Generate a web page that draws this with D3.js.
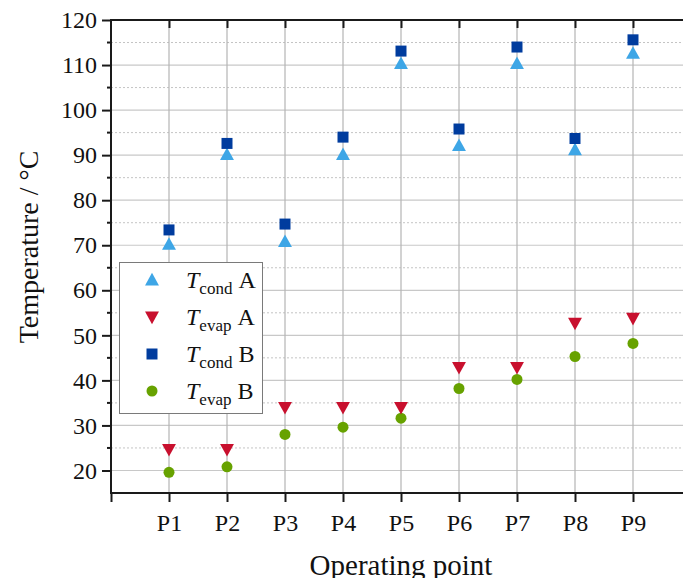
<!DOCTYPE html>
<html lang="en">
<head>
<meta charset="UTF-8" />
<title>Operating point temperatures</title>
<script src="https://d3js.org/d3.v7.min.js"></script>
<style>
  body { margin: 0; background: #fff; }
  text { font-family: "Liberation Serif", "Times New Roman", serif; fill: #111; }
</style>
</head>
<body>
<script>
// values
var points = ["P1", "P2", "P3", "P4", "P5", "P6", "P7", "P8", "P9"];
var tCondA = [70.2, 90.1, 70.8, 90.1, 110.3, 92.1, 110.3, 91.2, 112.6];
var tEvapA = [24.7, 24.7, 34.0, 34.0, 34.0, 42.9, 42.9, 52.7, 53.8];
var tCondB = [73.4, 92.6, 74.7, 94.0, 113.1, 95.8, 114.0, 93.7, 115.6];
var tEvapB = [19.6, 20.8, 28.0, 29.6, 31.6, 38.2, 40.2, 45.3, 48.2];
var yTicks = [20, 30, 40, 50, 60, 70, 80, 90, 100, 110, 120];

var W = 683, H = 578;
var svg = d3.select("body").append("svg").attr("width", W).attr("height", H);

// x runs from one slot before P1 to one after P9, the right end is cut by the window
var x = d3.scaleLinear().domain([0, 10]).range([111, 691]);
var y = d3.scaleLinear().domain([15, 120]).range([493, 20]);

var grid = svg.append("g");
// minor (dashed) horizontal grid
grid.selectAll("line.minor").data(d3.range(15, 120, 10)).enter().append("line")
  .attr("x1", x(0)).attr("x2", x(10))
  .attr("y1", d => y(d)).attr("y2", d => y(d))
  .attr("stroke", "#c4c4c4").attr("stroke-width", 1).attr("stroke-dasharray", "2,2");
// major horizontal grid
grid.selectAll("line.major").data(yTicks).enter().append("line")
  .attr("x1", x(0)).attr("x2", x(10))
  .attr("y1", d => y(d)).attr("y2", d => y(d))
  .attr("stroke", "#c8c8c8").attr("stroke-width", 1.2);
// vertical grid at each operating point
grid.selectAll("line.v").data(points).enter().append("line")
  .attr("x1", (d, i) => x(i + 1)).attr("x2", (d, i) => x(i + 1))
  .attr("y1", y(120)).attr("y2", y(15))
  .attr("stroke", "#b4b4b4").attr("stroke-width", 1.2);

// axes
var axisCol = "#1a1a1a";
var leftAx = svg.append("g").attr("transform", "translate(" + x(0) + ",0)")
  .call(d3.axisLeft(y).tickValues(yTicks).tickSize(9).tickPadding(5));
leftAx.select(".domain").remove();
leftAx.selectAll(".tick line").attr("stroke", axisCol).attr("stroke-width", 2);
leftAx.selectAll(".tick text").attr("font-size", 24).attr("fill", "#111")
  .attr("font-family", "Liberation Serif");

// minor ticks on the left
svg.append("g").selectAll("line").data(d3.range(25, 120, 10)).enter().append("line")
  .attr("x1", x(0) - 4).attr("x2", x(0))
  .attr("y1", d => y(d)).attr("y2", d => y(d))
  .attr("stroke", axisCol).attr("stroke-width", 2);

var bottomAx = svg.append("g").attr("transform", "translate(0," + y(15) + ")")
  .call(d3.axisBottom(x).tickValues(d3.range(0, 11)).tickSize(9).tickPadding(12)
    .tickFormat(d => (d >= 1 && d <= 9) ? points[d - 1] : ""));
bottomAx.select(".domain").remove();
bottomAx.selectAll(".tick line").attr("stroke", axisCol).attr("stroke-width", 2);
bottomAx.selectAll(".tick text").attr("font-size", 24).attr("fill", "#111")
  .attr("font-family", "Liberation Serif");

var topAx = svg.append("g").attr("transform", "translate(0," + y(120) + ")")
  .call(d3.axisBottom(x).tickValues(d3.range(1, 10)).tickSize(8).tickFormat(""));
topAx.select(".domain").remove();
topAx.selectAll(".tick line").attr("stroke", axisCol).attr("stroke-width", 2);

// frame lines
svg.append("line").attr("x1", x(0)).attr("x2", x(0)).attr("y1", y(120) - 1).attr("y2", y(15) + 1)
  .attr("stroke", axisCol).attr("stroke-width", 2);
svg.append("line").attr("x1", x(0) - 1).attr("x2", x(10)).attr("y1", y(120)).attr("y2", y(120))
  .attr("stroke", axisCol).attr("stroke-width", 2);
svg.append("line").attr("x1", x(0) - 1).attr("x2", x(10)).attr("y1", y(15)).attr("y2", y(15))
  .attr("stroke", axisCol).attr("stroke-width", 2);

// markers
var cUp = "#3ea6e6", cDown = "#c8102e", cSq = "#003c9e", cCirc = "#67a200";
function triUp(s) { return "M0," + (-s * 0.6) + "L" + (s * 0.58) + "," + (s * 0.45) + "L" + (-s * 0.58) + "," + (s * 0.45) + "Z"; }
function triDown(s) { return "M0," + (s * 0.6) + "L" + (s * 0.58) + "," + (-s * 0.45) + "L" + (-s * 0.58) + "," + (-s * 0.45) + "Z"; }
function square(s) { var h = s / 2; return "M" + (-h) + "," + (-h) + "h" + s + "v" + s + "h" + (-s) + "Z"; }

var series = [
  { name: "cond", sub: "A", vals: tCondA, col: cUp, shape: "up" },
  { name: "evap", sub: "A", vals: tEvapA, col: cDown, shape: "down" },
  { name: "cond", sub: "B", vals: tCondB, col: cSq, shape: "sq" },
  { name: "evap", sub: "B", vals: tEvapB, col: cCirc, shape: "circ" }
];

function drawMarker(g, s) {
  if (s.shape === "circ") {
    g.append("circle").attr("r", 5.5).attr("fill", s.col);
  } else {
    var d = s.shape === "up" ? triUp(12) : s.shape === "down" ? triDown(12) : square(11);
    g.append("path").attr("d", d).attr("fill", s.col);
  }
}

var marks = svg.append("g");
[series[3], series[1], series[0], series[2]].forEach(function (s) {
  s.vals.forEach(function (v, i) {
    var g = marks.append("g").attr("transform", "translate(" + x(i + 1) + "," + y(v) + ")");
    drawMarker(g, s);
  });
});

// legend
var lg = svg.append("g").attr("transform", "translate(119,262)");
lg.append("rect").attr("x", 0.5).attr("y", 0.5).attr("width", 143).attr("height", 151)
  .attr("fill", "#fff").attr("stroke", "#7a7a7a").attr("stroke-width", 1);
series.forEach(function (s, i) {
  var cy = 18 + i * 37;
  var g = lg.append("g").attr("transform", "translate(33," + cy + ")");
  drawMarker(g, s);
  var t = lg.append("text").attr("x", 67).attr("y", cy + 8).attr("font-size", 24);
  t.append("tspan").attr("font-style", "italic").text("T");
  t.append("tspan").attr("font-size", 17).attr("dy", 6).text(s.name);
  t.append("tspan").attr("dy", -6).text("\u00a0" + s.sub);
});

// axis titles
svg.append("text").attr("transform", "translate(38,247) rotate(-90)")
  .attr("text-anchor", "middle").attr("font-size", 28).text("Temperature / \u00b0C");
svg.append("text").attr("x", 401).attr("y", 575)
  .attr("text-anchor", "middle").attr("font-size", 29).text("Operating point");
</script>
</body>
</html>
